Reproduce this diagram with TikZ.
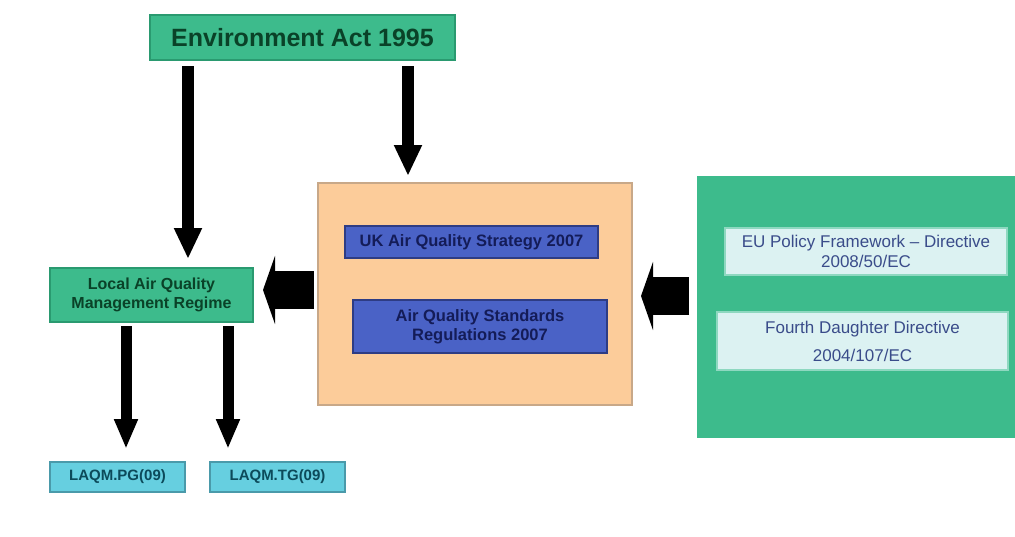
\documentclass[tikz,border=0pt]{standalone}
\usepackage{fontspec}
\setmainfont{Liberation Sans}
\usetikzlibrary{arrows.meta}
\definecolor{gfill}{HTML}{3DBB8C}
\definecolor{gdraw}{HTML}{2A9A70}
\definecolor{gtext}{HTML}{0A4228}
\definecolor{ofill}{HTML}{FCCC9A}
\definecolor{odraw}{HTML}{C8A888}
\definecolor{bfill}{HTML}{4A62C6}
\definecolor{bdraw}{HTML}{2E3C84}
\definecolor{btext}{HTML}{141C58}
\definecolor{lfill}{HTML}{DCF2F2}
\definecolor{ldraw}{HTML}{8ED8C0}
\definecolor{ltext}{HTML}{3A4C8A}
\definecolor{cfill}{HTML}{66CFE0}
\definecolor{cdraw}{HTML}{4A9AAA}
\definecolor{ctext}{HTML}{0C4A5A}
\tikzset{
  box/.style={rectangle, inner sep=0pt, align=center, line width=2pt},
  greenbox/.style={box, fill=gfill, draw=gdraw, text=gtext, font=\bfseries},
  bluebox/.style={box, fill=bfill, draw=bdraw, text=btext, font=\bfseries\fontsize{16.5}{19}\selectfont},
  lightbox/.style={box, fill=lfill, draw=ldraw, text=ltext, font=\fontsize{17}{28}\selectfont},
  cyanbox/.style={box, fill=cfill, draw=cdraw, text=ctext, font=\bfseries\fontsize{15}{17}\selectfont},
  varrow/.style={line width=12pt, -{Triangle[width=26pt,length=31pt]}},
  sarrow/.style={line width=11pt, -{Triangle[width=22pt,length=30pt]}},
  harrow/.style={line width=38pt, -{Triangle[width=68pt,length=12pt]}},
}
\begin{document}
\begin{tikzpicture}[x=1pt,y=-1pt]
\useasboundingbox (0,0) rectangle (1015,536);
\fill[white] (0,0) rectangle (1015,536);
% boxes
\node[greenbox, minimum width=305pt, minimum height=45pt, font=\bfseries\fontsize{25}{28}\selectfont] (env) at (302.5,37.5) {Environment Act 1995};
\node[greenbox, minimum width=203pt, minimum height=54pt, font=\bfseries\fontsize{16}{19}\selectfont] (local) at (151.5,295) {Local Air Quality\\Management Regime};
\node[box, fill=ofill, draw=odraw, minimum width=314pt, minimum height=222pt] (orange) at (475,294) {};
\node[bluebox, minimum width=253pt, minimum height=32pt] (uk) at (471.5,242) {UK Air Quality Strategy 2007};
\node[bluebox, minimum width=254pt, minimum height=53pt] (aqs) at (480,326.5) {Air Quality Standards\\Regulations 2007};
\node[box, fill=gfill, draw=gfill, minimum width=317pt, minimum height=260pt] (green) at (856.5,307) {};
\node[lightbox, minimum width=282pt, minimum height=47pt, font=\fontsize{17}{20}\selectfont] (eu) at (866,251.5) {EU Policy Framework – Directive\\2008/50/EC};
\node[lightbox, minimum width=291pt, minimum height=58pt] (fourth) at (862.5,341) {Fourth Daughter Directive\\2004/107/EC};
\node[cyanbox, minimum width=135pt, minimum height=30pt] (pg) at (117.5,477) {LAQM.PG(09)};
\node[cyanbox, minimum width=135pt, minimum height=30pt] (tg) at (277.5,477) {LAQM.TG(09)};
% connector guides
\coordinate (x1) at (188,0);
\coordinate (x2) at (408,0);
\coordinate (x3) at (126,0);
\coordinate (x4) at (228,0);
\coordinate (y1) at (0,290);
\coordinate (y2) at (0,296);
% arrows
\draw[varrow, shorten <=5pt, shorten >=8pt] (env.south -| x1) -- (local.north -| x1);
\draw[varrow, shorten <=5pt, shorten >=6pt] (env.south -| x2) -- (orange.north -| x2);
\draw[sarrow, shorten <=3pt, shorten >=12pt] (local.south -| x3) -- (pg.north -| x3);
\draw[sarrow, shorten <=3pt, shorten >=12pt] (local.south -| x4) -- (tg.north -| x4);
\draw[harrow, shorten <=3pt, shorten >=9pt] (orange.west |- y1) -- (local.east |- y1);
\draw[harrow, shorten <=8pt, shorten >=8pt] (green.west |- y2) -- (orange.east |- y2);
\end{tikzpicture}
\end{document}
